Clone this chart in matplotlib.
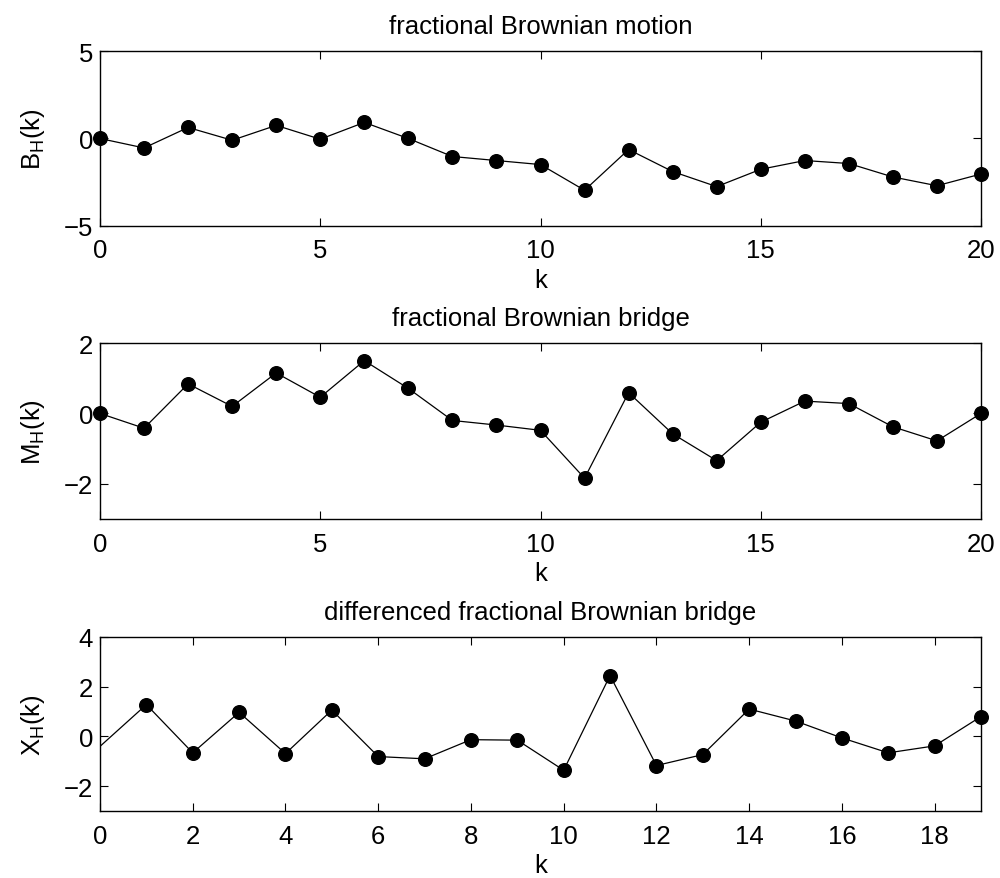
import numpy as np
import matplotlib
matplotlib.use('Agg')
import matplotlib.pyplot as plt

plt.rcParams['font.family'] = ['Liberation Sans', 'DejaVu Sans']
plt.rcParams['font.size'] = 18.5

# sample index
k_full = list(range(0, 21))
k_diff = list(range(0, 20))

# fractional Brownian motion
fbm = [0.0, -0.54, 0.63, -0.10, 0.75, -0.04, 0.92, 0.0, -1.03, -1.26, -1.49,
       -2.96, -0.63, -1.89, -2.75, -1.76, -1.26, -1.43, -2.20, -2.70, -2.03]
# fractional Brownian bridge
fbb = [0.0, -0.42, 0.84, 0.20, 1.15, 0.46, 1.50, 0.71, -0.20, -0.33, -0.48,
       -1.84, 0.59, -0.58, -1.34, -0.25, 0.35, 0.28, -0.38, -0.78, 0.0]
# differenced bridge
dfbb = [-0.40, 1.28, -0.66, 0.97, -0.69, 1.06, -0.81, -0.90, -0.13, -0.15,
        -1.36, 2.45, -1.17, -0.73, 1.10, 0.62, -0.06, -0.66, -0.38, 0.80]

titles = ['fractional Brownian motion', 'fractional Brownian bridge',
          'differenced fractional Brownian bridge']
ylabels = ['B$_\\mathregular{H}$(k)', 'M$_\\mathregular{H}$(k)', 'X$_\\mathregular{H}$(k)']

fig = plt.figure(figsize=(10, 8.79), dpi=100)
rects = [[0.1, 0.7418, 0.881, 0.199],
         [0.1, 0.4084, 0.881, 0.2002],
         [0.1, 0.0762, 0.881, 0.198]]
axes = [fig.add_axes(r) for r in rects]

style = dict(color='black', lw=0.9, marker='o', ms=9.8, clip_on=False)

ax = axes[0]
ax.plot(k_full, fbm, **style)
ax.set_xlim(0, 20)
ax.set_ylim(-5, 5)
ax.set_xticks([0, 5, 10, 15, 20])
ax.set_yticks([-5, 0, 5])

ax = axes[1]
ax.plot(k_full, fbb, **style)
ax.set_xlim(0, 20)
ax.set_ylim(-3, 2)
ax.set_xticks([0, 5, 10, 15, 20])
ax.set_yticks([-2, 0, 2])

ax = axes[2]
# first point has no marker in the original
ax.plot(k_diff, dfbb, color='black', lw=0.9)
ax.plot(k_diff[1:], dfbb[1:], color='black', lw=0, marker='o', ms=9.8, clip_on=False)
ax.set_xlim(0, 19)
ax.set_ylim(-3, 4)
ax.set_xticks(range(0, 19, 2))
ax.set_yticks([-2, 0, 2, 4])

for ax, t, yl in zip(axes, titles, ylabels):
    ax.set_title(t, fontsize=18.5, pad=13)
    ax.set_xlabel('k', labelpad=4)
    ax.set_ylabel(yl, labelpad=12)
    ax.tick_params(direction='in', top=True, right=True, length=6, width=0.8)
    ax.tick_params(axis='x', pad=9)
    ax.tick_params(axis='y', pad=5)
    for s in ax.spines.values():
        s.set_linewidth(1.0)
    ax.set_zorder(1)

fig.savefig('out.png', dpi=100)
